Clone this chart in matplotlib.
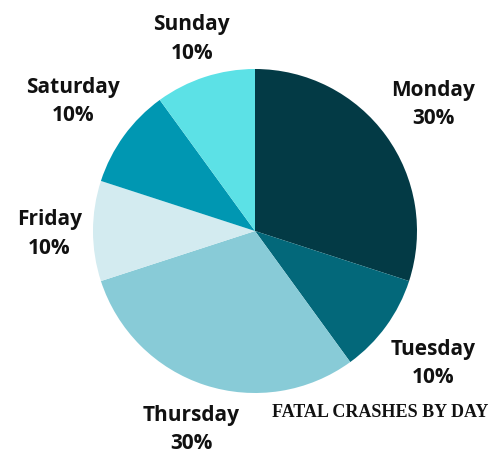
import matplotlib.pyplot as plt
import numpy as np

# data
days = ["Monday", "Tuesday", "Thursday", "Friday", "Saturday", "Sunday"]
shares = [30, 10, 30, 10, 10, 10]
colors = ["#033a45", "#03687a", "#88cbd7", "#d3ebf0", "#0097b2", "#5ce1e6"]
title = "FATAL CRASHES BY DAY"

# label distance from centre, in pie radii
label_dist = [1.36, 1.36, 1.27, 1.27, 1.39, 1.265]

fig = plt.figure(figsize=(5.02, 4.51), dpi=100)
ax = fig.add_axes([0, 0, 1, 1])

# pie centre at pixel (255, 231), radius 162 px
r_px = 162.0

wedges, _ = ax.pie(shares, colors=colors, startangle=90, counterclock=False,
                   radius=1, wedgeprops=dict(linewidth=0))
ax.set_aspect('equal')
ax.set_xlim(-255 / r_px, 247 / r_px)
ax.set_ylim(-220 / r_px, 231 / r_px)
ax.axis('off')

# labels around the pie (nudged down a few pixels)
y_nudge = -3 / r_px
for w, day, s, d in zip(wedges, days, shares, label_dist):
    mid = np.deg2rad((w.theta1 + w.theta2) / 2)
    ax.text(d * np.cos(mid), d * np.sin(mid) + y_nudge, f"{day}\n{s}%",
            ha='center', va='center', fontsize=15, fontweight='bold',
            family='Open Sans', color='#111111', linespacing=1.45)

ax.text((380 - 255) / r_px, (231 - 413) / r_px, title, ha='center', va='center',
        fontsize=13, fontweight='bold', family='Liberation Serif', color='#111111')

fig.savefig("out.png", dpi=100)
